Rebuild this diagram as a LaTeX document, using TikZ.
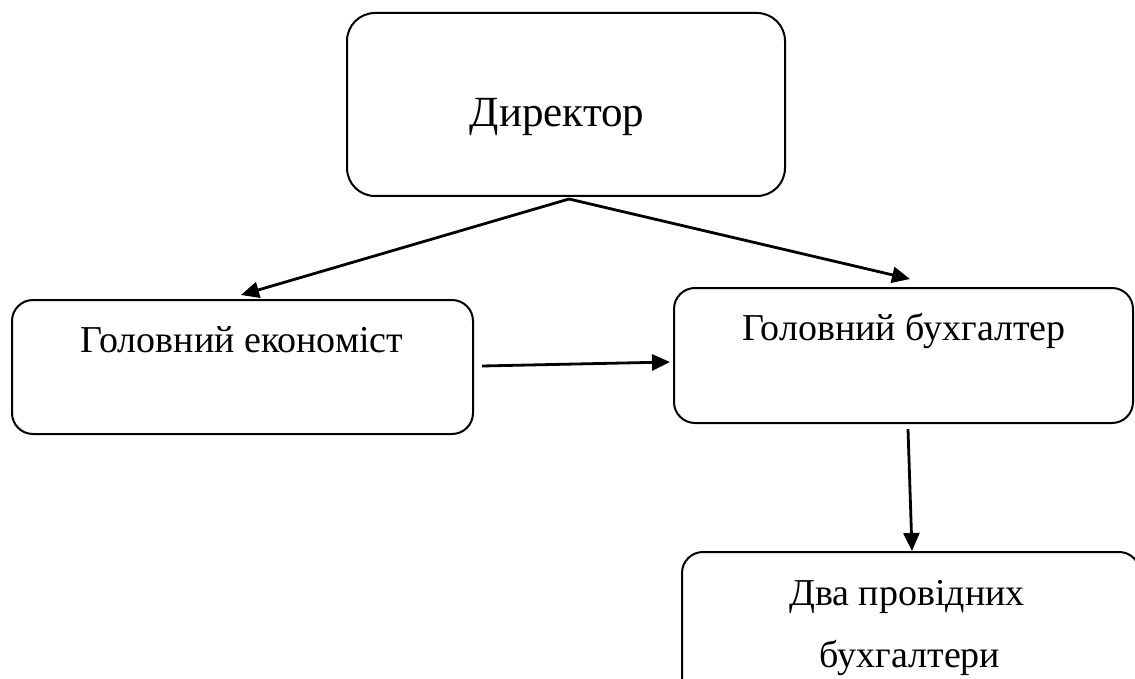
\documentclass[tikz,border=0pt]{standalone}
\usepackage{fontspec}
\setmainfont{Liberation Serif}
\usetikzlibrary{arrows.meta,calc}
\begin{document}
\begin{tikzpicture}[x=1pt,y=-1pt,
  box/.style={draw,line width=2pt,rounded corners=#1,inner sep=0pt,outer sep=0pt},
  box/.default=21pt,
  lbl/.style={anchor=base,inner sep=0pt,font=\fontsize{38}{44}\selectfont},
  conn/.style={line width=2.8pt,-{Triangle[length=18pt,width=16pt]}}]
\useasboundingbox (0,0) rectangle (1135,679);
\clip (0,0) rectangle (1135,679);
% boxes
\node[box=28pt,minimum width=438pt,minimum height=183pt] (dir) at (566,104.5) {};
\node[box,minimum width=461pt,minimum height=134pt] (eco) at (242.5,367) {};
\node[box,minimum width=459pt,minimum height=135pt] (buh) at (903.5,355.5) {};
\node[box,minimum width=458pt,minimum height=170pt] (two) at (911,637) {};
% labels
\node[lbl,font=\fontsize{43}{50}\selectfont] (tdir) at (557,127) {Директор};
\node[lbl] (teco) at (242,352) {Головний економіст};
\node[lbl] (tbuh) at (904,340) {Головний бухгалтер};
\node[lbl] (ttwo1) at (907,605) {Два провідних};
\node[lbl] (ttwo2) at (910,667) {бухгалтери};
% connectors
\coordinate (apex) at ($(dir.south)+(3,3)$);
\draw[conn] (apex) -- ($(eco.north west)+(229,-5)$);
\draw[conn] (apex) -- ($(buh.north west)+(236,-9)$);
\draw[conn] ($(eco.east)+(9,-1)$) -- ($(buh.west)+(-4,6.5)$);
\draw[conn] ($(buh.south)+(4.5,6)$) -- ($(two.north)+(1,-1)$);
\end{tikzpicture}
\end{document}
